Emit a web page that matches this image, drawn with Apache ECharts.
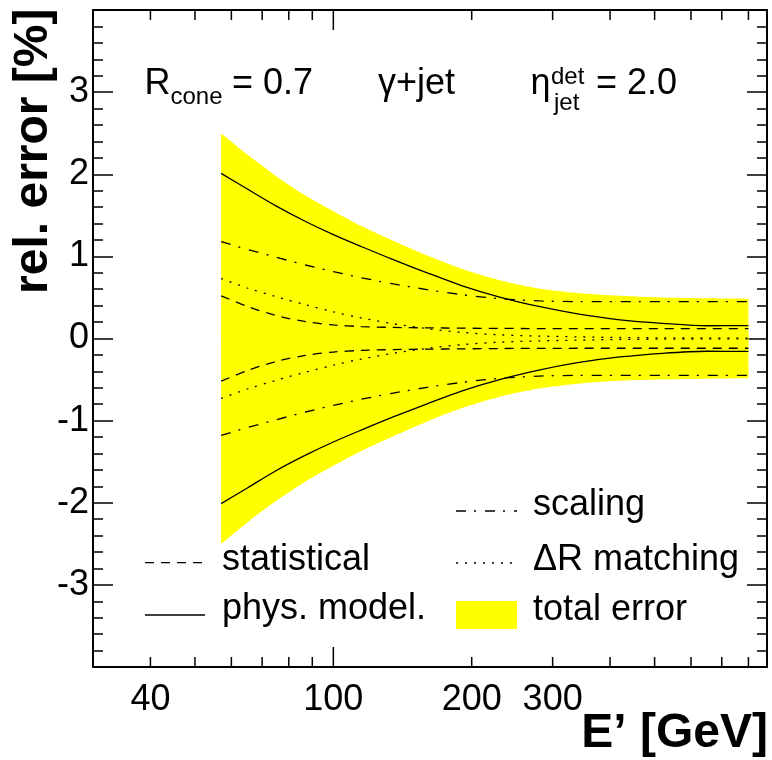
<!DOCTYPE html>
<html><head><meta charset="utf-8">
<script src="https://cdn.jsdelivr.net/npm/echarts@6/dist/echarts.min.js"></script>
<style>html,body{margin:0;padding:0;background:#fff}#c{width:772px;height:760px}</style>
</head><body><div id="c"></div>
<script>
// ---- data ----
const energies    = [57, 65, 75, 87, 100, 115, 135, 160, 190, 230, 280, 340, 420, 520, 650, 800];
const totalUp     = [2.50, 2.24, 1.98, 1.74, 1.55, 1.37, 1.19, 1.01, 0.85, 0.71, 0.61, 0.555, 0.52, 0.50, 0.49, 0.485];
const totalDown   = [-2.50, -2.24, -1.98, -1.74, -1.55, -1.37, -1.19, -1.01, -0.85, -0.71, -0.61, -0.55, -0.515, -0.50, -0.49, -0.485];
const physUp      = [2.01, 1.82, 1.615, 1.425, 1.265, 1.12, 0.96, 0.80, 0.645, 0.505, 0.39, 0.30, 0.228, 0.185, 0.155, 0.157];
const physDown    = [-2.01, -1.82, -1.61, -1.42, -1.26, -1.115, -0.955, -0.795, -0.64, -0.50, -0.385, -0.295, -0.225, -0.18, -0.155, -0.157];
const scalingUp   = [1.18, 1.085, 0.99, 0.895, 0.815, 0.74, 0.665, 0.595, 0.535, 0.485, 0.458, 0.45, 0.45, 0.45, 0.45, 0.45];
const scalingDown = [-1.18, -1.085, -0.99, -0.895, -0.815, -0.74, -0.665, -0.595, -0.535, -0.485, -0.458, -0.45, -0.45, -0.45, -0.45, -0.45];
const dRUp        = [0.73, 0.615, 0.51, 0.41, 0.325, 0.25, 0.18, 0.12, 0.075, 0.045, 0.03, 0.02, 0.012, 0.008, 0.005, 0.004];
const dRDown      = [-0.73, -0.615, -0.51, -0.41, -0.325, -0.25, -0.18, -0.12, -0.075, -0.045, -0.03, -0.02, -0.012, -0.008, -0.005, -0.004];
const statUp      = [0.52, 0.39, 0.28, 0.205, 0.165, 0.145, 0.135, 0.13, 0.126, 0.123, 0.121, 0.12, 0.12, 0.12, 0.12, 0.12];
const statDown    = [-0.52, -0.39, -0.28, -0.205, -0.165, -0.145, -0.135, -0.13, -0.126, -0.122, -0.12, -0.119, -0.119, -0.119, -0.119, -0.119];

const xMin = 30, xMax = 878;
const yMin = -4, yMax = 4;
const xMajorTicks = [100];
const xMinorTicks = [40, 50, 60, 70, 80, 90, 200, 300, 400, 500, 600, 700, 800];
const xTickLabels = [40, 100, 200, 300];

// ---- rendering ----
const FONT = '"Liberation Sans", Arial, Helvetica, sans-serif';
const chart = echarts.init(document.getElementById('c'), null, {renderer: 'canvas'});

function pairs(vals) { return energies.map((e, i) => [e, vals[i]]); }

const DASH_STAT = [9, 7];
const DASH_DR = [2, 7];
const DASH_SCAL = [10, 8, 2, 9];

function curve(vals, dash) {
  return {
    type: 'line', data: pairs(vals), smooth: 0.3, symbol: 'none', showSymbol: false,
    lineStyle: {color: '#000', width: 1.3, type: dash}, z: 3, silent: true
  };
}
function bandHalf(vals, origin) {
  return {
    type: 'line', data: pairs(vals), smooth: 0.3, symbol: 'none', showSymbol: false,
    lineStyle: {width: 0, opacity: 0},
    areaStyle: {color: '#ffff00', opacity: 1, origin: origin}, z: 1, silent: true
  };
}

const tickData = xMinorTicks.map(v => [v, 0, 0]).concat(xMajorTicks.map(v => [v, 0, 1]));

const txt = (text, x, y, size, opts) => ({
  type: 'text', x: x, y: y, silent: true,
  style: Object.assign({text: text, font: size + 'px ' + FONT, fill: '#000', textAlign: 'left',
                        textVerticalAlign: 'middle', verticalAlign: 'middle'}, opts || {})
});

const legendLine = (x1, x2, y, dash) => ({
  type: 'line', silent: true, shape: {x1: x1, y1: y, x2: x2, y2: y},
  style: {stroke: '#000', lineWidth: 1.3, lineDash: dash || null}
});

const yTitle = txt('rel. error [%]', 33.4, 8.5, 48, {font: 'bold 48px ' + FONT, textAlign: 'right'});
yTitle.rotation = Math.PI / 2;

const option = {
  animation: false,
  backgroundColor: '#fff',
  grid: {left: 93, right: 5, top: 10, bottom: 93, containLabel: false},
  xAxis: [
    {type: 'log', logBase: 10, min: xMin, max: xMax, position: 'bottom',
     axisLine: {show: true, onZero: false, lineStyle: {color: '#000', width: 2}},
     axisTick: {show: false}, axisLabel: {show: false}, splitLine: {show: false},
     minorTick: {show: false}, minorSplitLine: {show: false}},
    {type: 'log', logBase: 10, min: xMin, max: xMax, position: 'top',
     axisLine: {show: true, onZero: false, lineStyle: {color: '#000', width: 2}},
     axisTick: {show: false}, axisLabel: {show: false}, splitLine: {show: false},
     minorTick: {show: false}, minorSplitLine: {show: false}}
  ],
  yAxis: [
    {type: 'value', min: yMin, max: yMax, interval: 1, position: 'left',
     axisLine: {show: true, onZero: false, lineStyle: {color: '#000', width: 2}},
     axisTick: {show: true, inside: true, length: 20, lineStyle: {color: '#000', width: 1.5}},
     minorTick: {show: true, splitNumber: 5, length: 10, lineStyle: {color: '#000', width: 1.5}},
     splitLine: {show: false}, minorSplitLine: {show: false},
     axisLabel: {show: true, color: '#000', fontSize: 36, fontFamily: FONT, margin: 4,
                 showMinLabel: false, showMaxLabel: false}},
    {type: 'value', min: yMin, max: yMax, interval: 1, position: 'right',
     axisLine: {show: true, onZero: false, lineStyle: {color: '#000', width: 2}},
     axisTick: {show: true, inside: true, length: 20, lineStyle: {color: '#000', width: 1.5}},
     minorTick: {show: true, splitNumber: 5, length: 10, lineStyle: {color: '#000', width: 1.5}},
     splitLine: {show: false}, minorSplitLine: {show: false},
     axisLabel: {show: false}}
  ],
  series: [
    bandHalf(totalUp, -0.05),
    bandHalf(totalDown, 0.05),
    curve(statUp, DASH_STAT), curve(statDown, DASH_STAT),
    curve(dRUp, DASH_DR), curve(dRDown, DASH_DR),
    curve(scalingUp, DASH_SCAL), curve(scalingDown, DASH_SCAL),
    curve(physUp, 'solid'), curve(physDown, 'solid'),
    {
      type: 'custom', coordinateSystem: 'cartesian2d', data: tickData, z: 5, silent: true,
      renderItem: function (params, api) {
        const v = api.value(0);
        const major = api.value(2) === 1;
        const b = api.coord([v, yMin]);
        const t = api.coord([v, yMax]);
        const L = major ? 20 : 10;
        return {type: 'group', children: [
          {type: 'line', shape: {x1: b[0], y1: b[1], x2: b[0], y2: b[1] - L}, style: {stroke: '#000', lineWidth: 1.5}},
          {type: 'line', shape: {x1: t[0], y1: t[1], x2: t[0], y2: t[1] + L}, style: {stroke: '#000', lineWidth: 1.5}}
        ]};
      }
    },
    {
      type: 'custom', coordinateSystem: 'cartesian2d', data: xTickLabels.map(v => [v, 0]), z: 5, silent: true,
      renderItem: function (params, api) {
        const v = api.value(0);
        const b = api.coord([v, yMin]);
        return {type: 'text', x: b[0], y: b[1] + 33,
          style: {text: String(v), font: '36px ' + FONT, fill: '#000', textAlign: 'center',
                  textVerticalAlign: 'middle', verticalAlign: 'middle'}};
      }
    }
  ],
  graphic: [
    // axis titles
    yTitle,
    txt('E\u2019 [GeV]', 768, 734, 48, {font: 'bold 48px ' + FONT, textAlign: 'right'}),
    // annotations
    txt('R', 144.5, 84.5, 36),
    txt('cone', 170.5, 97.7, 24),
    txt('= 0.7', 232, 84.5, 36),
    txt('\u03B3+jet', 378, 84.5, 36),
    txt('\u03B7', 530.5, 84.5, 36),
    txt('det', 551, 77.7, 24),
    txt('jet', 554, 103.4, 24),
    txt('= 2.0', 596, 84.5, 36),
    // legend
    legendLine(145, 205, 562.7, DASH_STAT),
    txt('statistical', 222, 560.5, 36),
    legendLine(145, 205, 615, null),
    txt('phys. model.', 222, 609.5, 36),
    legendLine(456, 517, 511, DASH_SCAL),
    txt('scaling', 533, 505.5, 36),
    legendLine(456, 517, 563, DASH_DR),
    txt('\u0394R matching', 533, 560.5, 36),
    {type: 'rect', silent: true, shape: {x: 456, y: 601, width: 61, height: 28}, style: {fill: '#ffff00'}},
    txt('total error', 533, 610.5, 36)
  ]
};
chart.setOption(option);
</script>
</body></html>
